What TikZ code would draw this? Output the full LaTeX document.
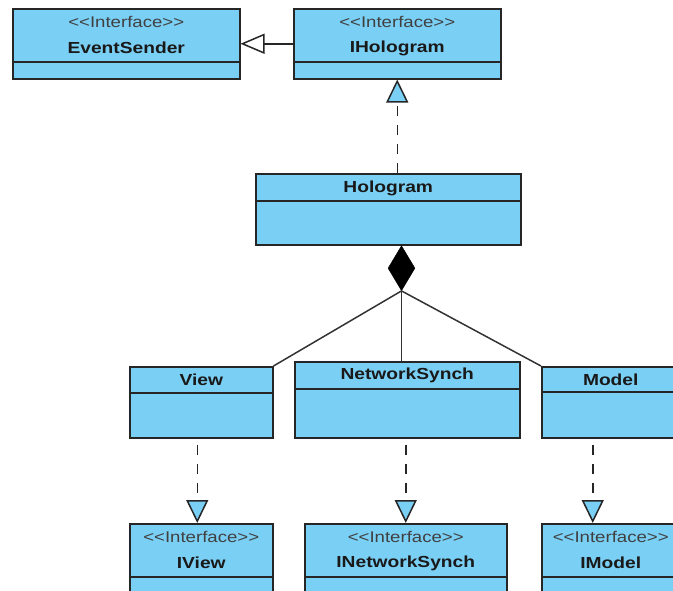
\documentclass[tikz,border=0pt]{standalone}
\usepackage{fontspec}
\newfontfamily\umlfont[FakeStretch=1.2]{Liberation Sans}
\usetikzlibrary{arrows.meta}
\usetikzlibrary{calc}
\usetikzlibrary{shapes.geometric}
\definecolor{umlblue}{RGB}{122,207,245}
\tikzset{
  classbox/.style={rectangle, draw=black!85, fill=umlblue, line width=1.5pt, anchor=north west, inner sep=0pt},
  stereo/.style={font=\umlfont\fontsize{15.5}{18}\selectfont, text=black!75, inner sep=0pt},
  cname/.style={font=\umlfont\fontsize{16}{18}\selectfont\bfseries, text=black!90, inner sep=0pt},
  realizes/.style={draw=black!85, line width=1.5pt, dash pattern=on 10pt off 9pt, -{Triangle[length=23pt,width=22pt,fill=umlblue]}},
  extends/.style={draw=black!85, line width=1.5pt, -{Triangle[length=24pt,width=20pt,fill=white]}},
  part/.style={draw=black!80, line width=1.5pt},
}
% box: name, x, y, width, height, divider
\newcommand{\umlbox}[6]{%
  \node[classbox, minimum width=#4pt, minimum height=#5pt] (#1) at (#2,#3) {};
  \draw[black!85, line width=1.5pt] ($(#1.north west)+(0,#6)$) -- ($(#1.north east)+(0,#6)$);
}
\newcommand{\stereotxt}{<\kern0pt<Interface>\kern0pt>}

\begin{document}
\begin{tikzpicture}[x=1pt,y=-1pt]
\useasboundingbox (0,0) rectangle (673,590);
\clip (0,0) rectangle (673,590);

% interfaces on top
\umlbox{evsender}{12}{8}{227}{70}{54}
\umlbox{iholo}{293}{8}{207}{70}{54}
\node[stereo] (evsender-st) at ($(evsender.north)+(0,14)$) {\stereotxt};
\node[cname] (evsender-nm) at ($(evsender.north)+(0,40)$) {EventSender};
\node[stereo] (iholo-st) at ($(iholo.north)+(0,14)$) {\stereotxt};
\node[cname] (iholo-nm) at ($(iholo.north)+(0,40)$) {IHologram};

% hologram and its parts
\umlbox{holo}{255}{173}{265}{71}{28}
\node[cname] (holo-nm) at ($(holo.north)+(0,15)$) {Hologram};
\umlbox{view}{129}{366}{143}{71}{27}
\umlbox{netsync}{294}{361}{225}{76}{28}
\umlbox{model}{541}{366}{138}{71}{26}
\node[cname] (view-nm) at ($(view.north)+(0,14)$) {View};
\node[cname] (netsync-nm) at ($(netsync.north)+(0,14)$) {NetworkSynch};
\node[cname] (model-nm) at ($(model.north)+(0,14)$) {Model};

% interfaces at the bottom
\umlbox{iview}{129}{523}{143}{80}{54}
\umlbox{inetsync}{304}{523}{202}{80}{54}
\umlbox{imodel}{541}{523}{138}{80}{54}
\node[stereo] (iview-st) at ($(iview.north)+(0,14)$) {\stereotxt};
\node[cname] (iview-nm) at ($(iview.north)+(0,40)$) {IView};
\node[stereo] (inetsync-st) at ($(inetsync.north)+(0,14)$) {\stereotxt};
\node[cname] (inetsync-nm) at ($(inetsync.north)+(0,40)$) {INetworkSynch};
\node[stereo] (imodel-st) at ($(imodel.north)+(0,14)$) {\stereotxt};
\node[cname] (imodel-nm) at ($(imodel.north)+(0,40)$) {IModel};

% composition
\node[diamond, fill=black, draw=black, minimum width=27pt, minimum height=45pt, inner sep=0pt, anchor=north] (whole) at ($(holo.south west)+(146.5,0)$) {};
\draw[part] (whole.south) -- (view.north east);
\draw[part] (whole.south) -- (whole.south |- netsync.north);
\draw[part] (whole.south) -- (model.north west);

% generalization and realizations
\draw[extends] (iholo.west) -- (evsender.east);
\draw[realizes] (holo.north -| iholo.south) -- (iholo.south);
\draw[realizes, shorten <=6pt] ([xshift=-4pt]view.south) -- ([xshift=-4pt]iview.north);
\draw[realizes, shorten <=6pt] (netsync.south -| inetsync.north) -- (inetsync.north);
\draw[realizes, shorten <=6pt] ([xshift=-18pt]model.south) -- ([xshift=-18pt]imodel.north);
\end{tikzpicture}
\end{document}
